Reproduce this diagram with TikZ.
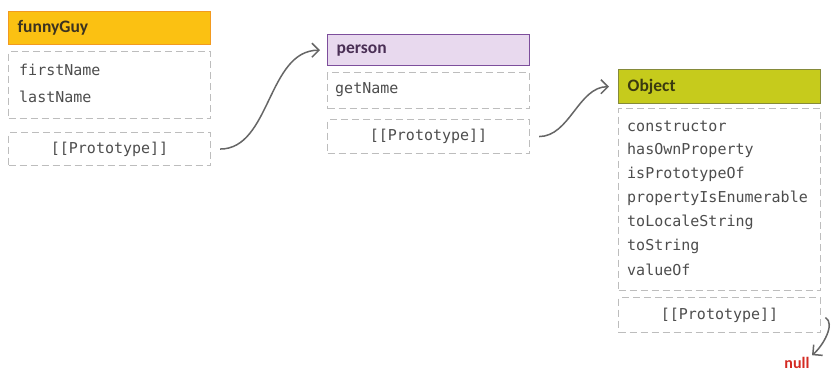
\documentclass[tikz,border=0pt]{standalone}
\usepackage{fontspec}
\setmainfont{Carlito}
\setmonofont{DejaVu Sans Mono}
\usetikzlibrary{arrows.meta}

\definecolor{guyfill}{HTML}{FBC112}
\definecolor{guyline}{HTML}{F29A1F}
\definecolor{guytext}{HTML}{3B3220}
\definecolor{personfill}{HTML}{E8D9EE}
\definecolor{personline}{HTML}{7D4E9C}
\definecolor{persontext}{HTML}{4A2F55}
\definecolor{objfill}{HTML}{C6CB1C}
\definecolor{objline}{HTML}{858A3A}
\definecolor{objtext}{HTML}{3A3A10}
\definecolor{slotline}{HTML}{BDBDBD}
\definecolor{slottext}{HTML}{4D4D4D}
\definecolor{linkgray}{HTML}{666666}
\definecolor{nullred}{HTML}{D42A22}

\tikzset{
  header/.style={anchor=north west, line width=1.4pt, minimum height=33pt,
    inner xsep=9pt, inner ysep=2pt, text width=184pt, align=left,
    font=\fontsize{17.5}{18}\selectfont\bfseries},
  slot/.style={anchor=north west, draw=slotline, line width=1.1pt,
    dash pattern=on 7pt off 4pt, inner xsep=9pt, inner ysep=2pt,
    text width=184pt, align=center, text=slottext,
    font=\ttfamily\fontsize{15}{15}\selectfont},
  member/.style={anchor=west, inner sep=0pt, text=slottext,
    font=\ttfamily\fontsize{15}{15}\selectfont},
  link/.style={draw=linkgray, line width=1.5pt,
    -{Straight Barb[length=7pt,width=14pt]}}
}

\begin{document}
\begin{tikzpicture}[x=1pt,y=1pt]
  \useasboundingbox[fill=white] (0,0) rectangle (832,-372);

  \node[header, draw=guyline, fill=guyfill, text=guytext] (guy) at (8,-11) {funnyGuy};
  \node[slot, minimum height=67pt] (guyslots) at (8,-51) {};
  \foreach \m [count=\i] in {firstName,lastName}
    \node[member] (guy\i) at (19,{-70-27*(\i-1)}) {\m};
  \node[slot, minimum height=33pt] (guyproto) at (8,-132) {[[Prototype]]};

  \node[header, draw=personline, fill=personfill, text=persontext, minimum height=31pt] (person) at (327,-34) {person};
  \node[slot, minimum height=36pt] (personslots) at (327,-72) {};
  \node[member] (person1) at (335,-90) {getName};
  \node[slot, minimum height=34pt] (personproto) at (327,-119) {[[Prototype]]};

  \node[header, draw=objline, fill=objfill, text=objtext, minimum height=34pt] (obj) at (618,-69) {Object};
  \node[slot, minimum height=182pt] (objslots) at (618,-108) {};
  \foreach \m [count=\i] in {constructor,hasOwnProperty,isPrototypeOf,
      propertyIsEnumerable,toLocaleString,toString,valueOf}
    \node[member] (obj\i) at (627,{-126-24*(\i-1)}) {\m};
  \node[slot, minimum height=35pt] (objproto) at (618,-297) {[[Prototype]]};

  \node[text=nullred, font=\fontsize{16}{16}\selectfont\bfseries, inner sep=0pt] (null) at (797,-363) {null};

  \draw[link, shorten <=9pt, shorten >=7pt] (guyproto.east) to[out=0,in=180] (person.west);
  \draw[link, shorten <=9pt, shorten >=9pt] (personproto.east) to[out=0,in=180] (obj.west);
  \draw[link, shorten <=5pt, shorten >=3pt] (objproto.east) to[out=-30,in=40] (null.north east);
\end{tikzpicture}
\end{document}
